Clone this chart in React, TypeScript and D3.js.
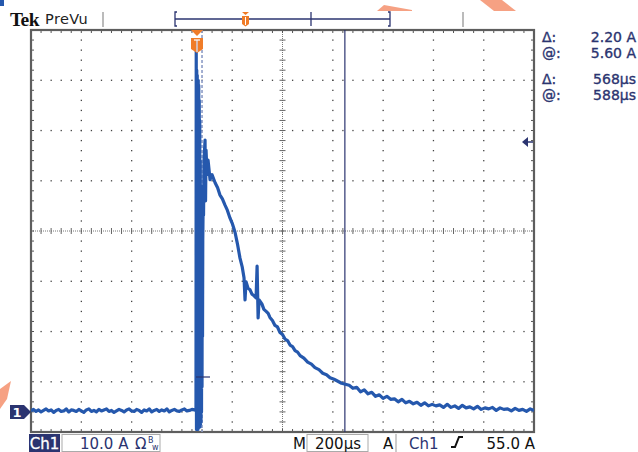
import React from 'react';
import * as d3 from 'd3';

// ---- data (time in µs from left edge of screen, current in A) ----
const baselineStep = 10;
const baselineCurrent = [
  0.2, 0.5, 0.1, 0.4, 0.0, 0.3, 0.6, 0.2, 0.4, -0.1, 0.3, 0.5, 0.1, 0.2, 0.6, 0.0, 0.4, 0.3, 0.1, 0.5,
  0.2, -0.1, 0.4, 0.6, 0.1, 0.3, 0.0, 0.5, 0.2, 0.4, 0.6, 0.1, 0.3, -0.1, 0.2, 0.5, 0.3, 0.0, 0.4, 0.6,
  0.2, 0.1, 0.5, 0.3, -0.1, 0.4, 0.2, 0.6, 0.0, 0.3, 0.5, 0.1, 0.4, 0.2, 0.6, 0.0, 0.3, 0.5, 0.2, 0.1,
  0.4, 0.6, 0.2, 0.3, 0.5, 0.4];

const pulseTime = [656, 657, 658, 659, 660, 661, 662, 663, 664, 665, 666, 667, 668, 669, 670, 671, 672, 673, 674, 675, 676, 677, 678, 679, 680, 681, 682, 683, 684];
const pulseCurrent = [0.3, 72.5, -3.5, 68, -3.5, 67, -3.5, 66, -3.5, 66, -3.2, 65, -3, 62, -3, 58, -3, 50, -2.5, 45, -2, 40, 0, 38, 5, 36, 15, 34, 39];

const decayTime = [686, 688, 692, 694, 696, 700, 704, 712, 720, 732, 742, 751, 761, 771, 781, 791, 801, 811, 821, 831, 840, 847, 851, 855, 863, 871, 879, 887, 895, 899, 903, 907, 918, 926, 935, 943, 950, 960, 970, 980, 990, 1000, 1010, 1020, 1030, 1040, 1050, 1060, 1070, 1085, 1100, 1115, 1129, 1145, 1160, 1175, 1189, 1205, 1220, 1235];
const decayCurrent = [39.2, 50.1, 54.1, 42, 52.1, 47.2, 50.1, 46.2, 47.2, 45.6, 44.6, 43.2, 42.4, 41.2, 40.1, 38.6, 37.4, 35.8, 33.4, 30.6, 28.8, 26.7, 22.3, 25.9, 24.6, 24.3, 23.4, 23.1, 22.7, 29.0, 18.7, 22.3, 21.5, 20.4, 20.0, 19.6, 18.8, 18.2, 17.2, 16.9, 15.8, 15.4, 14.5, 14.2, 13.3, 13.0, 12.2, 11.9, 11.2, 10.7, 9.9, 9.5, 8.8, 8.4, 7.7, 7.4, 6.8, 6.5, 6.1, 5.7];

const tailStep = 15;
const tailStart = 1250;
const tailCurrent = [5.5, 5.3, 4.7, 4.9, 4.0, 4.4, 3.6, 3.9, 3.1, 3.4, 2.7, 3.1, 2.5, 2.6, 2.0, 2.5, 1.8, 2.1, 1.6, 1.9, 1.3, 1.8, 1.2, 1.5, 1.2, 1.4, 0.9, 1.5, 0.9, 1.2, 0.7, 1.3, 0.8, 1.0, 0.6, 1.1, 0.5, 0.8, 0.6, 0.9, 0.3, 0.8, 0.5, 0.6, 0.2, 0.7, 0.3, 0.5, 0.1, 0.6, 0.3];

const cursorTimes = [680, 1248];
const triggerTime = 660;
const groundLevel = 0;
const readoutLabels = ['Δ:', '@:', 'Δ:', '@:'];
const readoutValues = ['2.20 A', '5.60 A', '568µs', '588µs'];

const W = 638, H = 452;
const L = 31, R = 534, T = 30, B = 432;
const xScale = d3.scaleLinear().domain([0, 2000]).range([L, R]);
const yScale = d3.scaleLinear().domain([-4, 76]).range([B, T]);

const NAVY = '#2b3470';
const TRACE = '#2558ad';
const ORANGE = '#f07c28';
const SALMON = '#f6a183';

export default function App() {
  const pts: [number, number][] = [
    ...baselineCurrent.map((a, i) => [i * baselineStep, a] as [number, number]),
    ...pulseTime.map((t, i) => [t, pulseCurrent[i]] as [number, number]),
    ...decayTime.map((t, i) => [t, decayCurrent[i]] as [number, number]),
    ...tailCurrent.map((a, i) => [tailStart + i * tailStep, a] as [number, number]),
  ];
  const line = d3.line<[number, number]>().x(d => xScale(d[0])).y(d => yScale(d[1]));

  const majorX = d3.range(0, 2001, 200);
  const majorY = d3.range(-4, 77, 10);
  const minorX = d3.range(0, 2001, 40);
  const minorY = d3.range(-4, 77, 2);
  const cx = xScale(1000), cy = yScale(36);

  const dots: JSX.Element[] = [];
  majorX.slice(1, -1).forEach((t, i) => {
    if (t === 1000) return;
    minorY.forEach((a, j) => dots.push(<rect key={`vx${i}-${j}`} x={xScale(t) - 0.6} y={yScale(a) - 0.6} width={1.3} height={1.3} fill="#444" />));
  });
  majorY.slice(1, -1).forEach((a, i) => {
    if (a === 36) return;
    minorX.forEach((t, j) => dots.push(<rect key={`hy${i}-${j}`} x={xScale(t) - 0.6} y={yScale(a) - 0.6} width={1.3} height={1.3} fill="#444" />));
  });

  const ticks: JSX.Element[] = [];
  minorX.forEach((t, i) => {
    const x = xScale(t);
    ticks.push(<line key={`ct${i}`} x1={x} x2={x} y1={cy - 3} y2={cy + 3} stroke="#666" strokeWidth={1} />);
    ticks.push(<line key={`tt${i}`} x1={x} x2={x} y1={T} y2={T + 3} stroke="#555" strokeWidth={1} />);
    ticks.push(<line key={`bt${i}`} x1={x} x2={x} y1={B - 3} y2={B} stroke="#555" strokeWidth={1} />);
  });
  minorY.forEach((a, i) => {
    const y = yScale(a);
    ticks.push(<line key={`cv${i}`} x1={cx - 3} x2={cx + 3} y1={y} y2={y} stroke="#666" strokeWidth={1} />);
    ticks.push(<line key={`lt${i}`} x1={L} x2={L + 3} y1={y} y2={y} stroke="#555" strokeWidth={1} />);
    ticks.push(<line key={`rt${i}`} x1={R - 3} x2={R} y1={y} y2={y} stroke="#555" strokeWidth={1} />);
  });

  const tx = xScale(triggerTime);
  const gy = yScale(groundLevel);
  const font = '"DejaVu Sans", Verdana, sans-serif';

  return (
    <div style={{ position: 'fixed', left: 0, top: 0, width: W, height: H, background: '#fff' }}>
      <svg width={W} height={H} style={{ display: 'block' }}>
        <rect x={0} y={0} width={W} height={H} fill="#fff" />
        {/* artifacts */}
        <rect x={0} y={0} width={4} height={6} fill={TRACE} />
        <polygon points="377,11 384,5 412,10 412,11" fill={SALMON} />
        <polygon points="480,0 502,0 516,11 494,11" fill={SALMON} />
        <polygon points="0,389 11,381 7,399 0,409" fill={SALMON} />

        {/* header */}
        <text x={10} y={25.5} fontFamily='"Liberation Serif", "DejaVu Serif", serif' fontWeight="bold" fontSize={19.5} fill="#111" letterSpacing={-0.6}>Tek</text>
        <text x={45} y={24} fontFamily={font} fontSize={14.5} fill="#222" letterSpacing={0.4}>PreVu</text>
        <line x1={103} x2={103} y1={12} y2={27} stroke="#bbb" strokeWidth={2} />
        <line x1={463} x2={463} y1={12} y2={27} stroke="#bbb" strokeWidth={2} />
        <line x1={175} x2={390} y1={19} y2={19} stroke={NAVY} strokeWidth={1.3} />
        <path d="M177,12 H175 V26 H177 M388,12 H390 V26 H388" fill="none" stroke={NAVY} strokeWidth={1.3} />
        <line x1={311} x2={311} y1={12} y2={26} stroke={NAVY} strokeWidth={1.3} />
        <path d="M242,12 H249 L245.5,15 Z" fill={ORANGE} />
        <path d="M242,16 H249 V24 L245.5,26.5 L242,24 Z" fill={ORANGE} />
        <line x1={245.5} x2={245.5} y1={17} y2={25} stroke="#fff" strokeWidth={1} />

        {/* graticule */}
        <g>{dots}</g>
        <line x1={L} x2={R} y1={cy} y2={cy} stroke="#777" strokeWidth={1} strokeDasharray="1,1" />
        <line x1={cx} x2={cx} y1={T} y2={B} stroke="#777" strokeWidth={1} strokeDasharray="1,1" />
        <g>{ticks}</g>
        <rect x={L} y={T} width={R - L} height={B - T} fill="none" stroke="#5e5e5e" strokeWidth={2.2} />

        {/* cursors */}
        <line x1={xScale(cursorTimes[0])} x2={xScale(cursorTimes[0])} y1={T} y2={B} stroke="#8d9cc6" strokeWidth={1.6} strokeDasharray="3,2" />
        <line x1={xScale(cursorTimes[1])} x2={xScale(cursorTimes[1])} y1={T} y2={B} stroke={NAVY} strokeWidth={1.2} />

        {/* trace */}
        <defs>
          <clipPath id="plotclip"><rect x={L} y={T} width={R - L} height={B - T} /></clipPath>
        </defs>
        <path d={line(pts) || ''} fill="none" stroke={TRACE} strokeWidth={3.2} strokeLinejoin="round" clipPath="url(#plotclip)" />
        <line x1={196} x2={210} y1={377} y2={377} stroke={NAVY} strokeWidth={1.2} />

        {/* trigger marker */}
        <path d={`M${tx - 6},${T} H${tx + 6} L${tx},${T + 6} Z`} fill={ORANGE} />
        <path d={`M${tx - 6},${T + 8} H${tx + 6} V${T + 19} L${tx},${T + 23} L${tx - 6},${T + 19} Z`} fill={ORANGE} />
        <line x1={tx} x2={tx} y1={T + 10} y2={T + 22} stroke="#cfd8ee" strokeWidth={1.4} />
        <line x1={tx - 3} x2={tx + 3} y1={T + 10} y2={T + 10} stroke="#fff" strokeWidth={1.2} />

        {/* ground marker */}
        <path d={`M10,${gy - 7} H24 L31,${gy} L24,${gy + 7} H10 Z`} fill={NAVY} />
        <text x={17} y={gy + 5} textAnchor="middle" fontFamily={font} fontWeight="bold" fontSize={13} fill="#fff">1</text>

        {/* right arrow marker */}
        <path d="M522,142 L528,137 V147 Z" fill={NAVY} />
        <line x1={527} x2={533} y1={142} y2={142} stroke={NAVY} strokeWidth={1.5} />

        {/* readouts */}
        {readoutLabels.map((lab, i) => {
          const y = [42, 58, 84, 100][i];
          return (
            <g key={`ro${i}`}>
              <text x={542} y={y} fontFamily={font} fontSize={14} fill={NAVY} stroke={NAVY} strokeWidth={0.35}>{lab}</text>
              <text x={636} y={y} textAnchor="end" fontFamily={font} fontSize={14} fill={NAVY} stroke={NAVY} strokeWidth={0.35}>{readoutValues[i]}</text>
            </g>
          );
        })}

        {/* bottom status */}
        <rect x={29} y={434} width={31} height={18} fill={NAVY} />
        <text x={44.5} y={448.5} textAnchor="middle" fontFamily={font} fontSize={15} fill="#fff" stroke="#fff" strokeWidth={0.3}>Ch1</text>
        <rect x={62} y={434.5} width={98} height={17} fill="none" stroke="#aaa" strokeWidth={1} />
        <text x={80} y={448.5} fontFamily={font} fontSize={15} fill={NAVY}>10.0 A</text>
        <text x={135} y={448.5} fontFamily={font} fontSize={15} fill={NAVY}>Ω</text>
        <text x={148} y={443} fontFamily={font} fontSize={8} fill={NAVY}>B</text>
        <text x={152} y={450} fontFamily={font} fontSize={8} fill={NAVY}>w</text>
        <text x={293} y={448.5} fontFamily={font} fontSize={15} fill="#111">M</text>
        <rect x={307} y={434.5} width={61} height={17} fill="none" stroke="#aaa" strokeWidth={1} />
        <text x={315} y={448.5} fontFamily={font} fontSize={15} fill="#111">200µs</text>
        <text x={383} y={448.5} fontFamily={font} fontSize={15} fill="#111">A</text>
        <line x1={396} x2={396} y1={434} y2={452} stroke="#bbb" strokeWidth={1.5} />
        <text x={409} y={448.5} fontFamily={font} fontSize={15} fill={NAVY}>Ch1</text>
        <path d="M451,447 H455 L459,437 H463" fill="none" stroke="#111" strokeWidth={2} />
        <text x={535} y={448.5} textAnchor="end" fontFamily={font} fontSize={15} fill="#111">55.0 A</text>
      </svg>
    </div>
  );
}
